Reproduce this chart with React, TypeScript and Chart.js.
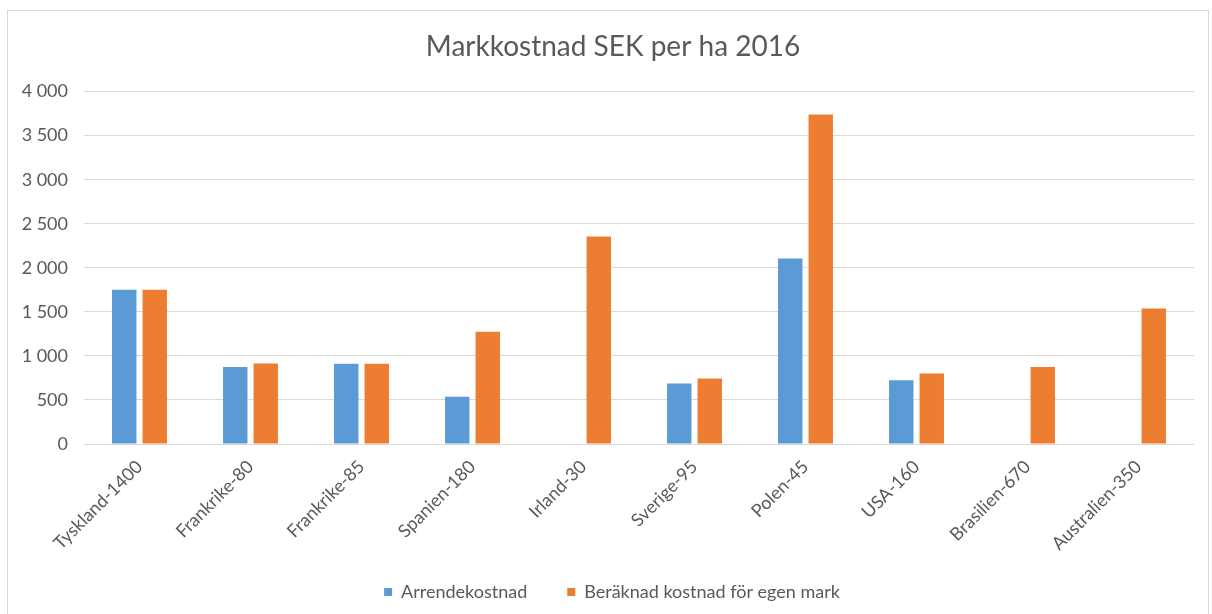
import React, { useEffect, useRef } from "react";
import { Chart, registerables } from "chart.js";

Chart.register(...registerables);

const categories = [
  "Tyskland-1400",
  "Frankrike-80",
  "Frankrike-85",
  "Spanien-180",
  "Irland-30",
  "Sverige-95",
  "Polen-45",
  "USA-160",
  "Brasilien-670",
  "Australien-350",
];
const arrendekostnad = [1750, 875, 912, 535, 0, 686, 2105, 723, 0, 0];
const egenMark = [1750, 913, 912, 1273, 2356, 743, 3739, 800, 875, 1538];
const seriesNames = ["Arrendekostnad", "Beräknad kostnad för egen mark"];
const titleText = "Markkostnad SEK per ha 2016";

const FONT = "Lato, 'Open Sans', sans-serif";
const TEXT = "#595959";
const LEGEND_GAP = 40;

const shiftPlugin = {
  id: "shiftBlocks",
  afterLayout(chart: any) {
    if (chart.titleBlock) {
      chart.titleBlock.left += 11;
      chart.titleBlock.right += 11;
    }
    if (chart.legend) {
      chart.legend.left += 10;
      chart.legend.right += 10;
      // items are drawn LEGEND_GAP below the legend's top; lift the top so the row sits near the bottom
      chart.legend.top = 592 - 9 - LEGEND_GAP;
    }
  },
};

export default function App() {
  const ref = useRef<HTMLCanvasElement | null>(null);
  useEffect(() => {
    document.body.style.margin = "0";
    const chart = new Chart(ref.current!, {
      type: "bar",
      data: {
        labels: categories,
        datasets: [
          {
            label: seriesNames[0],
            data: arrendekostnad,
            backgroundColor: "#5b9bd5",
            categoryPercentage: 0.55,
            barPercentage: 0.8,
          },
          {
            label: seriesNames[1],
            data: egenMark,
            backgroundColor: "#ed7d31",
            categoryPercentage: 0.55,
            barPercentage: 0.8,
          },
        ],
      },
      plugins: [shiftPlugin],
      options: {
        animation: false,
        responsive: false,
        maintainAspectRatio: false,
        layout: { padding: { left: 10, right: 18, top: 0, bottom: 3 } },
        plugins: {
          tooltip: { enabled: false },
          title: {
            display: true,
            text: titleText,
            color: TEXT,
            font: { family: FONT, size: 28, weight: "normal", lineHeight: 1.2 },
            padding: { top: 30, bottom: 28 },
          },
          legend: {
            position: "bottom",
            maxHeight: 38,
            labels: {
              color: TEXT,
              font: { family: FONT, size: 18 },
              boxWidth: 8,
              boxHeight: 8,
              padding: LEGEND_GAP,
            },
          },
        },
        scales: {
          x: {
            grid: { display: false },
            border: { display: false },
            ticks: {
              color: TEXT,
              font: { family: FONT, size: 18 },
              minRotation: 45,
              maxRotation: 45,
              autoSkip: false,
              padding: 4,
            },
            afterFit: (s: any) => {
              s.height = 129;
            },
          },
          y: {
            min: 0,
            max: 4000,
            grid: { color: "#d9d9d9", drawTicks: false },
            border: { display: false },
            ticks: {
              stepSize: 500,
              color: TEXT,
              padding: 16,
              font: { family: FONT, size: 18 },
              callback: (v: any) =>
                Number(v)
                  .toString()
                  .replace(/\B(?=(\d{3})+(?!\d))/g, " "),
            },
            afterFit: (s: any) => {
              s.width = 74;
            },
          },
        },
      },
    });
    return () => chart.destroy();
  }, []);
  return (
    <div style={{ position: "relative", width: 1212, height: 614, overflow: "hidden", background: "#fff" }}>
      <div
        style={{
          position: "absolute",
          left: 7,
          top: 10,
          width: 1202,
          height: 620,
          border: "1px solid #d9d9d9",
          boxSizing: "border-box",
        }}
      />
      <canvas ref={ref} width={1212} height={614} style={{ position: "absolute", left: 0, top: 0 }} />
    </div>
  );
}
